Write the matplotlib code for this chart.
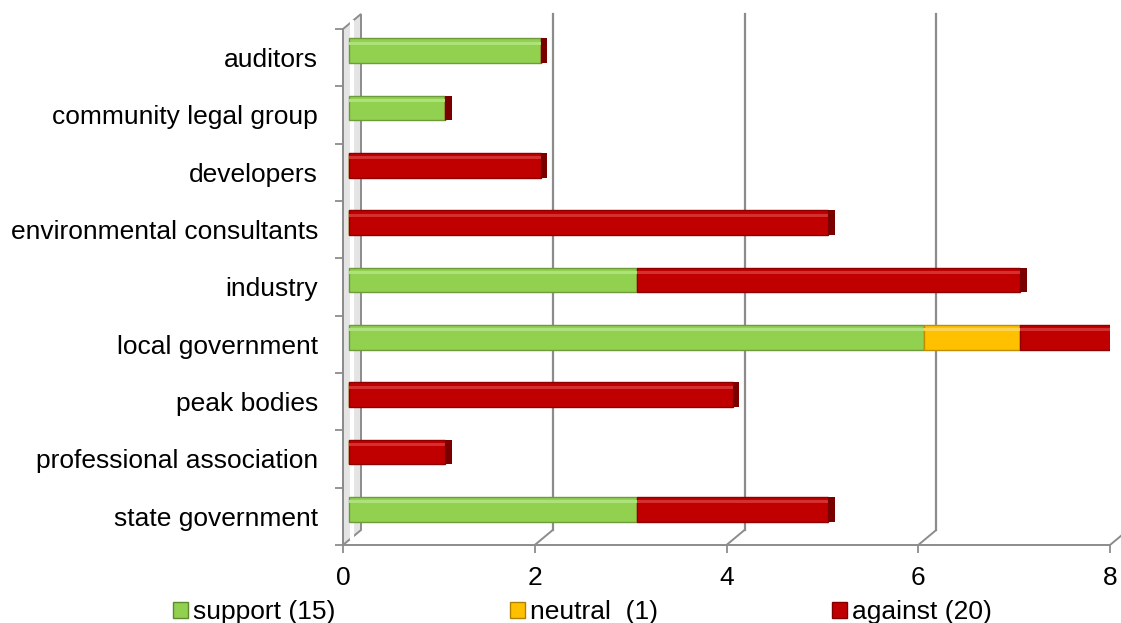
import matplotlib.pyplot as plt
import numpy as np
from matplotlib.patches import Patch, Polygon, ConnectionPatch
import matplotlib.transforms as mtransforms

plt.rcParams['font.family'] = ['Liberation Sans', 'DejaVu Sans']

# data
categories = ['auditors', 'community legal group', 'developers', 'environmental consultants',
              'industry', 'local government', 'peak bodies', 'professional association',
              'state government']
support = [2, 1, 0, 0, 3, 6, 0, 0, 3]
neutral = [0, 0, 0, 0, 0, 1, 0, 0, 0]
against = [0, 0, 2, 5, 4, 1, 4, 1, 2]
legend_labels = ['support (15)', 'neutral  (1)', 'against (20)']
xticks = [0, 2, 4, 6, 8]

green, yellow, red = '#92D050', '#FFC000', '#C00000'
grid_c = '#8C8C8C'
fs = 19

fig = plt.figure(figsize=(11.21, 6.23), dpi=100)
ax = fig.add_axes([343 / 1121, 78 / 623, 767 / 1121, 516 / 623])

n = len(categories)
y = np.arange(n)
sup = np.array(support)
neu = np.array(neutral)
ag = np.array(against)
total = sup + neu + ag
h = 0.43

ax.set_xlim(0, 8)
ax.set_ylim(n - 0.5, -0.5)

# depth offsets (pixels) for the 3d look
bar_tr = mtransforms.offset_copy(ax.transData, fig=fig, x=6, y=7, units='dots')
back_tr = mtransforms.offset_copy(ax.transData, fig=fig, x=18, y=15, units='dots')

# left wall
p = [ax.transData.transform((0, n - 0.5)), ax.transData.transform((0, -0.5)),
     back_tr.transform((0, -0.5)), back_tr.transform((0, n - 0.5))]
ax.add_patch(Polygon(p, closed=True, transform=None, facecolor='#E4E4E4',
                     edgecolor=grid_c, lw=1.4, zorder=0.4, clip_on=False))
pm = [ax.transData.transform((0, n - 0.5)) + [9, 7], ax.transData.transform((0, -0.5)) + [9, 7]]
ax.plot([pm[0][0], pm[1][0]], [pm[0][1], pm[1][1]], color='white', lw=3,
        transform=None, zorder=0.45, clip_on=False)

# back-wall grid lines with slanted feet
for xv in xticks[1:]:
    ax.plot([xv, xv], [n - 0.5, -0.5], color=grid_c, lw=1.6, transform=back_tr,
            zorder=0.5, clip_on=False)
    con = ConnectionPatch(xyA=(xv, n - 0.5), coordsA=ax.transData,
                          xyB=(xv, n - 0.5), coordsB=back_tr,
                          color=grid_c, lw=1.4, zorder=0.5)
    ax.add_artist(con)

# stacked bars
ax.barh(y, sup, height=h, color=green, edgecolor='#6E9A3C', linewidth=1, transform=bar_tr, zorder=2)
ax.barh(y, neu, left=sup, height=h, color=yellow, edgecolor='#C08E00', linewidth=1, transform=bar_tr, zorder=2)
ax.barh(y, ag, left=sup + neu, height=h, color=red, edgecolor='#8E0000', linewidth=1, transform=bar_tr, zorder=2)
# light highlight stripe near the top of each segment
ax.barh(y - h * 0.3, sup, height=h * 0.12, color='#ADE27A', linewidth=0, transform=bar_tr, zorder=2.1)
ax.barh(y - h * 0.3, neu, left=sup, height=h * 0.12, color='#FFD24D', linewidth=0, transform=bar_tr, zorder=2.1)
ax.barh(y - h * 0.3, ag, left=sup + neu, height=h * 0.12, color='#D43030', linewidth=0, transform=bar_tr, zorder=2.1)
# end caps
ax.barh(y, 0.07, left=total, height=h, color='#7A0000', linewidth=0, transform=bar_tr, zorder=2.2)

ax.set_xticks(xticks)
ax.set_yticks(np.arange(-0.5, n), labels=[])
ax.set_yticks(y, labels=categories, minor=True)
ax.tick_params(axis='y', which='minor', length=0, labelsize=fs, pad=18)
ax.tick_params(axis='y', which='major', length=6, color=grid_c, width=1.3)
ax.tick_params(axis='x', length=6, color=grid_c, width=1.3, labelsize=fs, pad=9)

for s in ['top', 'right']:
    ax.spines[s].set_visible(False)
for s in ['left', 'bottom']:
    ax.spines[s].set_color(grid_c)
    ax.spines[s].set_linewidth(1.4)
    ax.spines[s].set_zorder(3)

handles = [Patch(facecolor=green, edgecolor='#5E8A2E'),
           Patch(facecolor=yellow, edgecolor='#B08000'),
           Patch(facecolor=red, edgecolor='#800000')]
fig.legend(handles, legend_labels, loc='center left', bbox_to_anchor=(173 / 1121, 11 / 623),
           ncol=3, frameon=False, fontsize=fs, handlelength=0.57, handleheight=0.57,
           handletextpad=0.19, columnspacing=6.6, borderpad=0, borderaxespad=0)

fig.savefig('out.png', dpi=100)
